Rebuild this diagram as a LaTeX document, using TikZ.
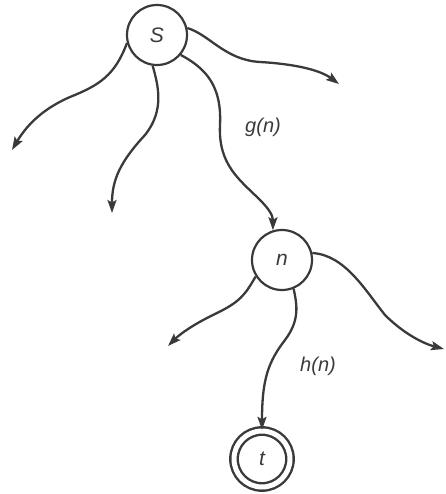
\documentclass[tikz,border=0pt]{standalone}
\usepackage{fontspec}
\setmainfont{Liberation Sans}
\usetikzlibrary{arrows.meta}
\definecolor{ink}{HTML}{3A3A3A}
\begin{document}
\begin{tikzpicture}[x=1pt,y=-1pt,
  statenode/.style={circle,draw=ink,line width=2.2pt,minimum size=60pt,inner sep=0pt,
    font=\fontsize{21}{24}\selectfont\itshape,text=ink},
  goalnode/.style={statenode,double=white,double distance=5pt,line width=2.4pt,minimum size=56pt},
  edgearrow/.style={draw=ink,line width=2.3pt,-{Stealth[length=13pt,width=9pt,inset=2.5pt]}},
  lab/.style={font=\fontsize{20}{24}\selectfont\itshape,text=ink}]
\useasboundingbox (0,0) rectangle (445,494);
\node[statenode] (S) at (157,35) {S};
\node[statenode] (n) at (282,260) {n};
\node[goalnode] (t) at (262,459) {t};
\coordinate (e1) at (12,150);
\coordinate (e2) at (112,213);
\coordinate (e4) at (339,84);
\coordinate (e5) at (168,346);
\coordinate (e7) at (444,349);
% from S
\draw[edgearrow] (S.195) .. controls (115,75) and (100,85) .. (70,97)
   .. controls (40,110) and (25,128) .. (e1);
\draw[edgearrow] (S.262) .. controls (158,85) and (165,110) .. (145,135)
   .. controls (120,162) and (112,180) .. (e2);
\draw[edgearrow] (S.-40) .. controls (205,68) and (222,85) .. (220,125)
   .. controls (218,165) and (240,180) .. (260,200)
   .. controls (268,208) and (273,215) .. (n.107);
\draw[edgearrow] (S.13) .. controls (210,35) and (225,60) .. (260,62)
   .. controls (295,64) and (320,70) .. (e4);
% from n
\draw[edgearrow] (n.212) .. controls (245,295) and (240,302) .. (215,314)
   .. controls (190,326) and (178,336) .. (e5);
\draw[edgearrow] (n.-68) .. controls (297,305) and (300,320) .. (285,340)
   .. controls (268,362) and (262,380) .. (t.north);
\draw[edgearrow] (n.13) .. controls (345,255) and (365,290) .. (385,315)
   .. controls (405,335) and (425,344) .. (e7);
\node[lab] (g) at (263,127) {g(n)};
\node[lab] (h) at (318,366) {h(n)};
\end{tikzpicture}
\end{document}
